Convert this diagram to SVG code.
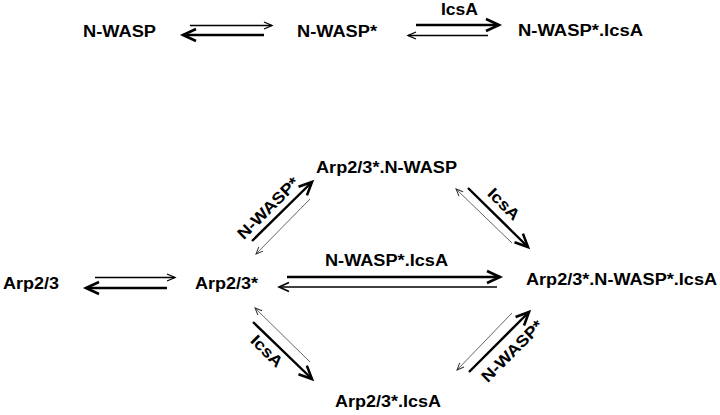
<svg xmlns="http://www.w3.org/2000/svg" width="720" height="415" viewBox="0 0 720 415">
<style>
text{font-family:"Liberation Sans",Arial,sans-serif;font-weight:bold;font-size:16px;fill:#000}
.thick{stroke:#000;stroke-width:2.4;fill:none;marker-end:url(#hb)}
.med{stroke:#000;stroke-width:1.6;fill:none;marker-end:url(#hm)}
.thin{stroke:#000;stroke-width:1.3;fill:none;marker-end:url(#hs)}
.hair{stroke:#555;stroke-width:0.9;fill:none;marker-end:url(#hh)}
</style>
<defs>
<marker id="hb" markerUnits="userSpaceOnUse" viewBox="-16 -9 18 18" refX="0" refY="0" markerWidth="18" markerHeight="18" orient="auto" overflow="visible"><path d="M-13,-6 L0,0 L-13,6" fill="none" stroke="#000" stroke-width="2.6"/></marker>
<marker id="hm" markerUnits="userSpaceOnUse" viewBox="-16 -9 18 18" refX="0" refY="0" markerWidth="18" markerHeight="18" orient="auto" overflow="visible"><path d="M-10,-4.5 L0,0 L-10,4.5" fill="none" stroke="#000" stroke-width="1.6"/></marker>
<marker id="hs" markerUnits="userSpaceOnUse" viewBox="-16 -9 18 18" refX="0" refY="0" markerWidth="18" markerHeight="18" orient="auto" overflow="visible"><path d="M-8,-3.5 L0,0 L-8,3.5" fill="none" stroke="#000" stroke-width="1.3"/></marker>
<marker id="hh" markerUnits="userSpaceOnUse" viewBox="-16 -9 18 18" refX="0" refY="0" markerWidth="18" markerHeight="18" orient="auto" overflow="visible"><path d="M-7,-3 L0,0 L-7,3" fill="none" stroke="#333" stroke-width="1"/></marker>
</defs>
<rect width="720" height="415" fill="#fff"/>

<g id="connectors">
  <!-- top row -->
  <line class="thin" x1="190" y1="25.5" x2="272" y2="25.5"/>
  <line class="thick" x1="264" y1="35" x2="183" y2="35"/>
  <line class="thick" x1="416" y1="25" x2="499" y2="25"/>
  <line class="thin" x1="488" y1="35.5" x2="408" y2="35.5"/>
  <text x="441" y="15" textLength="37" lengthAdjust="spacingAndGlyphs">IcsA</text>
  <!-- middle row -->
  <line class="thin" x1="95" y1="277.5" x2="175" y2="277.5"/>
  <line class="thick" x1="167" y1="288" x2="86" y2="288"/>
  <line class="thick" x1="287" y1="277" x2="500" y2="277"/>
  <line class="med" x1="497" y1="287" x2="279" y2="287"/>
  <text x="325" y="266" textLength="123" lengthAdjust="spacingAndGlyphs">N-WASP*.IcsA</text>
  <!-- upper left -->
  <line class="thick" x1="252" y1="241" x2="312" y2="182"/>
  <line class="hair" x1="310" y1="199" x2="256" y2="254"/>
  <text x="0" y="0" text-anchor="middle" textLength="80" lengthAdjust="spacingAndGlyphs" transform="translate(272,212) rotate(-45)">N-WASP*</text>
  <!-- upper right -->
  <line class="thick" x1="468" y1="188" x2="528" y2="247"/>
  <line class="hair" x1="512" y1="243" x2="456" y2="189"/>
  <text x="0" y="0" text-anchor="middle" textLength="38" lengthAdjust="spacingAndGlyphs" transform="translate(500,208) rotate(45)">IcsA</text>
  <!-- lower left -->
  <line class="thick" x1="253" y1="322" x2="312" y2="379"/>
  <line class="hair" x1="310" y1="362" x2="255" y2="308"/>
  <text x="0" y="0" text-anchor="middle" textLength="38" lengthAdjust="spacingAndGlyphs" transform="translate(263,355) rotate(45)">IcsA</text>
  <!-- lower right -->
  <line class="thick" x1="469" y1="372" x2="529" y2="312"/>
  <line class="hair" x1="512" y1="313" x2="457" y2="370"/>
  <text x="0" y="0" text-anchor="middle" textLength="80" lengthAdjust="spacingAndGlyphs" transform="translate(516,355) rotate(-45)">N-WASP*</text>
</g>

<g id="nwasp"><text x="83" y="37" textLength="73" lengthAdjust="spacingAndGlyphs">N-WASP</text></g>
<g id="nwasp-star"><text x="297" y="37" textLength="80" lengthAdjust="spacingAndGlyphs">N-WASP*</text></g>
<g id="nwasp-star-icsa"><text x="518" y="36" textLength="125" lengthAdjust="spacingAndGlyphs">N-WASP*.IcsA</text></g>

<g id="arp23"><text x="3" y="289" textLength="56" lengthAdjust="spacingAndGlyphs">Arp2/3</text></g>
<g id="arp23-star"><text x="195" y="289" textLength="63" lengthAdjust="spacingAndGlyphs">Arp2/3*</text></g>
<g id="arp23-nwasp"><text x="316" y="173" textLength="141" lengthAdjust="spacingAndGlyphs">Arp2/3*.N-WASP</text></g>
<g id="arp23-nwasp-icsa"><text x="526" y="285" textLength="191" lengthAdjust="spacingAndGlyphs">Arp2/3*.N-WASP*.IcsA</text></g>
<g id="arp23-icsa"><text x="335" y="407" textLength="106" lengthAdjust="spacingAndGlyphs">Arp2/3*.IcsA</text></g>
</svg>
